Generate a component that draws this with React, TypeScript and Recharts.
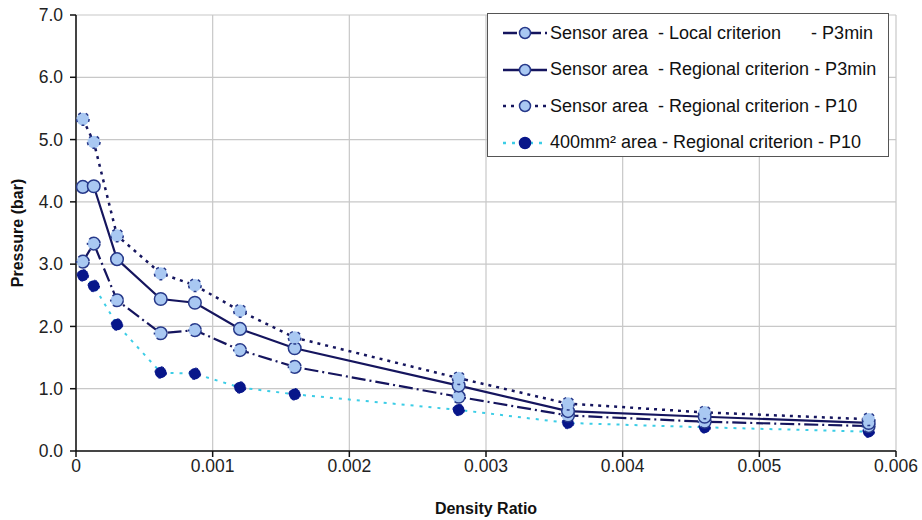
import React from 'react';
import { LineChart, Line, XAxis, YAxis, CartesianGrid } from 'recharts';

const densityRatio = [0.00005, 0.00013, 0.0003, 0.00062, 0.00087, 0.0012, 0.0016, 0.0028, 0.0036, 0.0046, 0.0058];
const localP3min = [3.04, 3.33, 2.42, 1.89, 1.94, 1.62, 1.35, 0.87, 0.57, 0.47, 0.4];
const regionalP3min = [4.24, 4.25, 3.08, 2.44, 2.38, 1.96, 1.65, 1.05, 0.64, 0.55, 0.45];
const regionalP10 = [5.33, 4.96, 3.46, 2.85, 2.66, 2.25, 1.82, 1.17, 0.76, 0.62, 0.51];
const area400P10 = [2.82, 2.65, 2.03, 1.26, 1.24, 1.02, 0.91, 0.66, 0.45, 0.38, 0.31];
const xTicks = [0, 0.001, 0.002, 0.003, 0.004, 0.005, 0.006];
const yTicks = [0, 1, 2, 3, 4, 5, 6, 7];

const data = densityRatio.map((x, i) => ({
  x,
  local: localP3min[i],
  regional: regionalP3min[i],
  p10: regionalP10[i],
  area: area400P10[i],
}));

const FONT = 'Arial, "Liberation Sans", sans-serif';
const NAVY = '#15155e';
const LIGHT = '#a9c8f2';
const RING = '#27398a';
const DARKDOT = '#08168a';
const CYAN = '#3ccde6';

const lightDot = { r: 6.3, fill: LIGHT, stroke: RING, strokeWidth: 1.5 };
const darkDot = { r: 5.8, fill: DARKDOT, stroke: DARKDOT, strokeWidth: 1 };

const legendItems = [
  { label: 'Sensor area  - Local criterion      - P3min', color: NAVY, dash: '14 4 2 4', dot: lightDot },
  { label: 'Sensor area  - Regional criterion - P3min', color: NAVY, dash: undefined, dot: lightDot },
  { label: 'Sensor area  - Regional criterion - P10', color: NAVY, dash: '3 5', dot: lightDot },
  { label: '400mm² area - Regional criterion - P10', color: CYAN, dash: '3 6', dot: darkDot },
];

const LegendBox = () => (
  <div
    style={{
      position: 'absolute',
      left: 487,
      top: 13,
      width: 402,
      height: 144,
      boxSizing: 'border-box',
      border: '1px solid #555',
      background: '#fff',
      padding: '1px 0 0 14px',
      fontFamily: FONT,
      fontSize: 18,
      color: '#111',
    }}
  >
    {legendItems.map((it) => (
      <div key={it.label} style={{ display: 'flex', alignItems: 'center', height: 36.5, whiteSpace: 'pre' }}>
        <svg width={46} height={16} style={{ marginRight: 2 }}>
          <line x1={1} y1={8} x2={45} y2={8} stroke={it.color} strokeWidth={2.5} strokeDasharray={it.dash} />
          <circle cx={23} cy={8} r={5.5} fill={it.dot.fill} stroke={it.dot.stroke} strokeWidth={1.5} />
        </svg>
        <span>{it.label}</span>
      </div>
    ))}
  </div>
);

const fmtX = (v: number) => (v === 0 ? '0' : v.toFixed(3));
const fmtY = (v: number) => v.toFixed(1);

export default function App() {
  return (
    <div style={{ position: 'fixed', top: 0, left: 0, width: 922, height: 520, background: '#fff' }}>
      <LineChart width={922} height={520} data={data} margin={{ top: 15, right: 26, bottom: 0, left: 0 }}>
        <CartesianGrid stroke="#c8c8c8" strokeWidth={1.2} />
        <XAxis
          dataKey="x"
          type="number"
          domain={[0, 0.006]}
          ticks={xTicks}
          tickFormatter={fmtX}
          height={69}
          stroke="#111"
          strokeWidth={1.5}
          tickSize={6}
          tickMargin={3}
          tick={{ fill: '#222', fontSize: 17.5, fontFamily: FONT }}
          label={{
            value: 'Density Ratio',
            position: 'insideBottom',
            offset: 6,
            style: { fontWeight: 'bold', fontSize: 16, fill: '#111', fontFamily: FONT },
          }}
        />
        <YAxis
          type="number"
          domain={[0, 7]}
          ticks={yTicks}
          tickFormatter={fmtY}
          width={76}
          stroke="#111"
          strokeWidth={1.5}
          tickSize={6}
          tickMargin={7}
          tick={{ fill: '#222', fontSize: 17.5, fontFamily: FONT }}
          label={{
            value: 'Pressure (bar)',
            angle: -90,
            position: 'insideLeft',
            offset: 17,
            style: { textAnchor: 'middle', fontWeight: 'bold', fontSize: 16, fill: '#111', fontFamily: FONT },
          }}
        />
        <Line dataKey="area" stroke={CYAN} strokeWidth={2} strokeDasharray="3 6" dot={darkDot} isAnimationActive={false} />
        <Line dataKey="local" stroke={NAVY} strokeWidth={2.2} strokeDasharray="14 4 2 4" dot={lightDot} isAnimationActive={false} />
        <Line dataKey="regional" stroke={NAVY} strokeWidth={2.2} dot={lightDot} isAnimationActive={false} />
        <Line dataKey="p10" stroke={NAVY} strokeWidth={2.5} strokeDasharray="3 5" dot={lightDot} isAnimationActive={false} />
      </LineChart>
      <LegendBox />
    </div>
  );
}
